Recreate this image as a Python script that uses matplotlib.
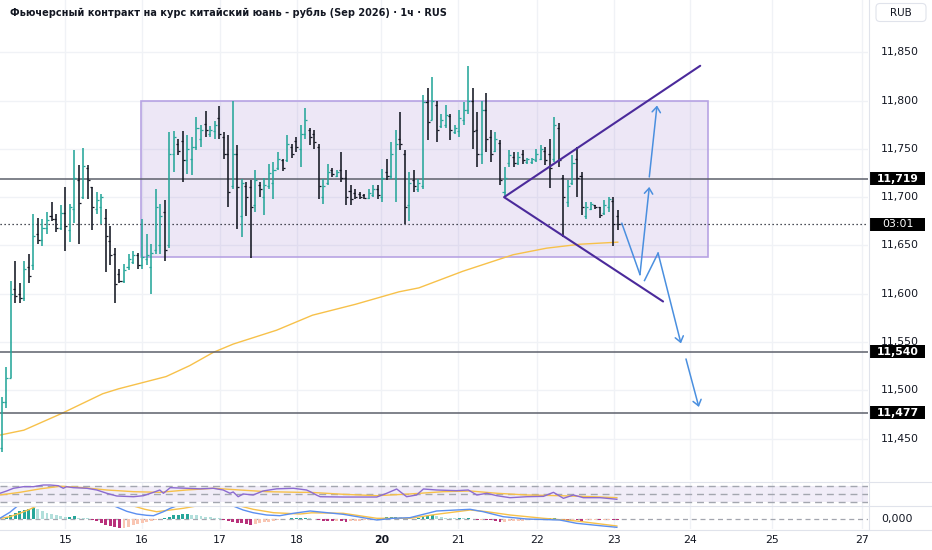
import matplotlib
matplotlib.use('Agg')
import matplotlib.pyplot as plt
import matplotlib.transforms as mtransforms
from matplotlib.patches import Rectangle, FancyBboxPatch
from matplotlib.lines import Line2D
import numpy as np

plt.rcParams['font.family'] = ['DejaVu Sans']

# ---------------- data ----------------
title = "Фьючерсный контракт на курс китайский юань - рубль (Sep 2026) · 1ч · RUS"

opens = [11440, 11488, 11513, 11605, 11600, 11596, 11628, 11630, 11662, 11656,
         11668, 11680, 11677, 11668, 11684, 11666, 11688, 11718, 11700, 11730,
         11710, 11688, 11690, 11678, 11655, 11641, 11620, 11613, 11628, 11633,
         11640, 11630, 11636, 11628, 11645, 11650, 11685, 11650, 11745, 11755,
         11758, 11738, 11740, 11752, 11760, 11776, 11765, 11768, 11782, 11762,
         11745, 11712, 11745, 11680, 11712, 11710, 11692, 11713, 11700, 11712,
         11715, 11730, 11738, 11738, 11752, 11758, 11750, 11765, 11770, 11765,
         11752, 11700, 11715, 11728, 11722, 11728, 11720, 11706, 11704, 11703,
         11702, 11699, 11702, 11708, 11700, 11726, 11722, 11720, 11760, 11745,
         11692, 11718, 11708, 11712, 11798, 11780, 11795, 11774, 11775, 11784,
         11767, 11768, 11780, 11790, 11800, 11770, 11745, 11790, 11762, 11748,
         11756, 11705, 11735, 11742, 11735, 11745, 11736, 11736, 11738, 11740,
         11748, 11745, 11740, 11772, 11720, 11695, 11715, 11740, 11722, 11680,
         11688, 11692, 11690, 11684, 11690, 11696, 11680]
highs = [11493, 11524, 11613, 11634, 11611, 11634, 11641, 11683, 11678, 11677,
         11685, 11695, 11683, 11692, 11711, 11693, 11749, 11733, 11751, 11733,
         11711, 11705, 11703, 11688, 11670, 11647, 11626, 11631, 11641, 11644,
         11642, 11677, 11662, 11651, 11708, 11693, 11697, 11767, 11769, 11760,
         11768, 11764, 11762, 11783, 11775, 11789, 11774, 11779, 11794, 11767,
         11764, 11800, 11754, 11719, 11716, 11718, 11728, 11716, 11720, 11734,
         11736, 11747, 11739, 11764, 11755, 11762, 11775, 11792, 11772, 11770,
         11755, 11719, 11734, 11730, 11728, 11747, 11728, 11713, 11708, 11705,
         11703, 11708, 11713, 11713, 11729, 11739, 11757, 11770, 11788, 11749,
         11726, 11728, 11719, 11806, 11813, 11824, 11800, 11786, 11795, 11786,
         11775, 11790, 11798, 11836, 11813, 11788, 11800, 11808, 11770, 11767,
         11759, 11731, 11749, 11747, 11747, 11749, 11741, 11741, 11750, 11754,
         11752, 11760, 11783, 11777, 11723, 11718, 11744, 11752, 11726, 11695,
         11695, 11692, 11690, 11697, 11700, 11700, 11687]
lows = [11436, 11482, 11513, 11590, 11590, 11592, 11611, 11625, 11651, 11649,
        11662, 11675, 11664, 11666, 11644, 11654, 11673, 11652, 11698, 11698,
        11666, 11683, 11672, 11623, 11630, 11590, 11611, 11611, 11625, 11631,
        11626, 11626, 11630, 11600, 11641, 11641, 11634, 11647, 11726, 11744,
        11716, 11724, 11723, 11749, 11752, 11762, 11762, 11760, 11760, 11739,
        11690, 11708, 11667, 11659, 11680, 11637, 11685, 11700, 11682, 11708,
        11698, 11728, 11727, 11736, 11741, 11747, 11731, 11760, 11754, 11750,
        11698, 11693, 11713, 11721, 11721, 11716, 11692, 11692, 11698, 11698,
        11698, 11698, 11700, 11698, 11695, 11718, 11719, 11695, 11749, 11672,
        11675, 11705, 11705, 11708, 11759, 11780, 11757, 11772, 11772, 11759,
        11765, 11762, 11775, 11786, 11750, 11731, 11734, 11747, 11736, 11747,
        11713, 11700, 11731, 11731, 11733, 11734, 11734, 11734, 11736, 11738,
        11733, 11709, 11736, 11731, 11659, 11690, 11713, 11700, 11682, 11677,
        11687, 11688, 11678, 11682, 11685, 11649, 11666]
closes = [11488, 11513, 11600, 11598, 11596, 11626, 11618, 11660, 11656, 11668,
          11676, 11677, 11668, 11684, 11670, 11690, 11720, 11694, 11732, 11718,
          11690, 11697, 11700, 11660, 11640, 11610, 11613, 11625, 11636, 11640,
          11630, 11638, 11640, 11642, 11690, 11680, 11645, 11745, 11762, 11748,
          11738, 11750, 11752, 11772, 11770, 11770, 11770, 11775, 11765, 11745,
          11705, 11745, 11710, 11715, 11700, 11690, 11718, 11708, 11713, 11725,
          11728, 11740, 11730, 11755, 11745, 11752, 11765, 11780, 11762, 11757,
          11712, 11712, 11726, 11724, 11726, 11720, 11700, 11698, 11700, 11700,
          11699, 11704, 11708, 11702, 11720, 11722, 11745, 11755, 11755, 11690,
          11715, 11712, 11715, 11798, 11778, 11800, 11770, 11780, 11785, 11770,
          11772, 11782, 11790, 11800, 11768, 11745, 11790, 11760, 11745, 11760,
          11718, 11720, 11744, 11735, 11742, 11738, 11739, 11740, 11745, 11750,
          11738, 11730, 11775, 11738, 11700, 11712, 11735, 11720, 11690, 11690,
          11693, 11690, 11682, 11692, 11698, 11672, 11672]

# EMA (yellow) vertices: bar index, price
ema_x = [-0.4, 4.9, 13.2, 22.3, 25.8, 36.3, 41.5, 46.7, 51.1, 60.7, 68.6, 78.1,
         87.7, 92.1, 101.8, 112.9, 120.3, 127.7, 136.0]
ema_y = [11453.7, 11458.8, 11476.0, 11496.5, 11501.6, 11514.3, 11525.6, 11539.3,
         11547.9, 11562.3, 11577.8, 11589.1, 11602.0, 11606.1, 11623.3, 11640.4,
         11647.2, 11651.3, 11653.4]

levels = [11719, 11540, 11477]
last_price = 11672
countdown = "03:01"
price_ticks = [11450, 11500, 11550, 11600, 11650, 11700, 11750, 11800, 11850]

day_labels = ["15", "16", "17", "18", "20", "21", "22", "23", "24", "25", "27"]
day_pos = [14.06, 30.9, 48.1, 65.2, 83.8, 100.7, 118.1, 135.1, 152.0, 170.0, 189.9]

# drawings
box_x = [30.75, 155.9]
box_y = [11638, 11800]
tri_x = [146.0, 110.9, 154.2]
tri_y = [11592, 11700, 11836]
path_a_x = [136.9, 140.9]; path_a_y = [11672.9, 11619.9]
path_c_x = [141.9, 144.9]; path_c_y = [11613.7, 11642.1]
arrows = [((140.9, 11619.9), (142.96, 11710.6)),
          ((142.96, 11720.9), (144.66, 11794.9)),
          ((144.9, 11642.1), (149.95, 11548.6)),
          ((151.06, 11532.5), (153.9, 11482.8))]

# RSI
rsi_x = [-0.4, 1.1, 2.6, 4.8, 7.0, 9.2, 10.7, 12.5, 13.6, 14.3, 15.8, 18.8, 21.0,
         23.2, 25.4, 29.1, 31.3, 33.5, 34.9, 35.7, 37.2, 40.8, 43.8, 46.7, 48.9,
         50.4, 51.1, 52.2, 53.3, 55.5, 57.7, 60.7, 64.4, 67.3, 68.1, 69.5, 70.3,
         75.4, 82.8, 85.0, 87.2, 89.4, 91.6, 93.1, 96.0, 100.4, 103.0, 104.9,
         107.1, 109.3, 112.2, 115.9, 119.6, 121.8, 124.0, 126.2, 128.4, 132.1,
         133.6, 135.8]
rsi_v = [52.6, 58.5, 65.4, 69.5, 69.5, 73.8, 73.8, 72.0, 65.4, 69.5, 67.0, 65.4,
         61.0, 52.6, 45.6, 43.8, 46.4, 55.0, 61.0, 52.6, 67.0, 65.4, 64.0, 65.4,
         61.0, 52.6, 56.0, 43.8, 50.8, 48.2, 58.5, 64.0, 65.4, 61.0, 56.7, 48.0,
         43.8, 43.0, 43.0, 52.6, 63.6, 43.8, 48.2, 63.6, 61.0, 59.3, 61.0, 48.2,
         52.6, 46.4, 41.3, 43.8, 44.7, 55.0, 39.7, 48.2, 41.3, 41.3, 39.7, 37.2]
rsima_x = [-0.4, 4.0, 8.5, 12.9, 18.0, 23.2, 29.1, 34.9, 40.8, 46.7, 52.6, 58.5,
           65.9, 68.1, 75.4, 82.8, 90.1, 97.5, 103.4, 109.3, 115.9, 123.2, 130.6,
           135.8]
rsima_v = [48.2, 55.0, 64.0, 70.5, 67.0, 61.0, 56.7, 55.0, 61.0, 65.4, 61.0, 56.7,
           55.0, 55.0, 50.0, 46.4, 50.8, 56.7, 58.5, 52.6, 48.2, 46.4, 43.8, 41.3]

# MACD
hist = [0.5, 2.0, 4.5, 6.5, 8.0, 9.5, 10.5, 10.8, 10.0, 8.0,
        6.5, 5.0, 4.2, 3.0, 2.0, 2.2, 2.6, 1.4, 1.0, 0.7,
        -0.5, -2.2, -4.0, -5.8, -7.2, -8.0, -8.8, -8.6, -7.8, -6.3,
        -5.0, -3.8, -2.8, -1.8, -1.0, -0.2, 0.8, 2.3, 3.8, 4.5,
        4.7, 4.9, 4.4, 4.0, 3.4, 2.4, 2.0, 1.4, 0.7, -0.8,
        -1.8, -2.7, -3.7, -4.4, -5.3, -6.0, -5.4, -4.4, -3.4, -2.7,
        -1.8, -1.0, -0.4, 0.5, 0.8, 1.0, 1.3, 1.4, 0.8, -0.4,
        -1.2, -1.6, -2.0, -2.1, -1.8, -2.2, -2.5, -2.0, -1.7, -1.5,
        -1.3, -1.0, -0.8, -0.4, 0.8, 1.6, 2.0, 2.4, 1.8, 0.2,
        -0.4, 0.3, 0.6, 2.4, 3.0, 3.8, 2.6, 1.6, 1.5, 1.3,
        1.2, 1.2, 1.1, 1.3, 0.4, -0.8, -0.6, -1.0, -1.2, -2.0,
        -3.3, -2.8, -2.2, -2.0, -1.7, -1.5, -1.3, -1.1, -0.9, -0.6,
        -0.4, 1.0, 1.4, 0.5, -0.8, -1.4, -1.0, -1.2, -1.6, -1.3,
        -1.1, -1.0, -1.2, -1.0, -0.8, -1.3, -1.4]
macd_x = [-0.4, 1.8, 3.3, 5.1, 12.9, 21.7, 25.0, 27.6, 29.8, 32.0, 33.5, 35.7, 37.2,
          38.6, 41.6, 46.0, 49.3, 51.1, 53.3, 55.5, 58.5, 61.4, 64.4, 67.3, 68.1,
          75.4, 82.8, 86.4, 90.1, 93.1, 96.0, 103.4, 106.3, 110.7, 115.9, 123.2,
          126.9, 132.1, 135.8]
macd_v = [0.7, 6.7, 12.3, 18.0, 25.0, 22.0, 12.7, 7.7, 5.0, 3.7, 3.3, 7.3, 10.7,
          13.0, 16.0, 17.0, 15.0, 13.0, 9.0, 6.3, 4.0, 3.3, 5.7, 7.5, 8.0,
          4.7, -1.0, 0.7, 1.3, 4.7, 8.0, 9.7, 7.3, 2.3, 0.0, -1.0,
          -4.3, -6.7, -8.3]
sig_x = [-0.4, 1.8, 4.0, 6.2, 7.7, 12.9, 21.7, 26.1, 29.1, 31.6, 34.2, 37.2, 40.1,
         43.0, 47.1, 52.6, 55.5, 60.0, 65.9, 68.4, 75.4, 82.8, 90.1, 96.0, 103.4,
         107.1, 112.2, 119.6, 126.9, 135.8]
sig_v = [0.5, 2.3, 5.7, 9.7, 13.0, 17.0, 19.0, 16.0, 13.0, 9.7, 7.3, 9.0, 10.7,
         13.0, 15.0, 13.0, 9.7, 6.3, 5.0, 6.2, 5.7, 0.7, 0.7, 4.7, 9.0,
         7.3, 4.0, 0.7, -2.0, -7.0]

# ---------------- style ----------------
TEAL = '#26a69a'
BLACK = '#131722'
GRID = '#f0f2f6'
SEP = '#e0e3eb'
TEXT = '#131722'
LEVEL = '#5d606b'
BLUE = '#4a8fdf'
PURPLE_DARK = '#4b2a9b'
EMA_C = '#f7c14a'
RSI_C = '#8c6bd0'
RSIMA_C = '#f7c14a'
MACD_C = '#5b8ff0'
SIG_C = '#f7c14a'

W, H = 932, 550
PLOT_R = 868
fig = plt.figure(figsize=(W / 100, H / 100), dpi=100)
fig.patch.set_facecolor('white')


def ax_rect(top, bottom):
    return [0, 1 - bottom / H, PLOT_R / W, (bottom - top) / H]


ax = fig.add_axes(ax_rect(0, 480))
ax_rsi = fig.add_axes(ax_rect(482, 506))
ax_macd = fig.add_axes(ax_rect(506, 529))
XLIM = (-0.375, 191.24)

for a in (ax, ax_rsi, ax_macd):
    a.set_xlim(*XLIM)
    a.set_xticks([])
    a.set_yticks([])
    for s in a.spines.values():
        s.set_visible(False)
    a.set_facecolor('none')
    for d in day_pos:
        a.axvline(d, color=GRID, lw=1.0, zorder=0)

ax.set_ylim(11407.2, 11904.1)
ax_rsi.set_ylim(20, 81.5)
ax_macd.set_ylim(-10, 13)

for p in price_ticks:
    ax.axhline(p, color=GRID, lw=1.0, zorder=0)

# rectangle drawing
ax.add_patch(Rectangle((box_x[0], box_y[0]), box_x[1] - box_x[0], box_y[1] - box_y[0],
                       facecolor=(149 / 255, 117 / 255, 205 / 255, 0.17),
                       edgecolor='#b7a3e3', lw=1.2, zorder=1))

# EMA
ax.plot(ema_x, ema_y, color=EMA_C, lw=1.0, zorder=2)

# levels
for lv in levels:
    ax.axhline(lv, color=LEVEL, lw=1.1, zorder=2)
ax.axhline(last_price, color=BLACK, lw=0.9, ls=(0, (1, 2.2)), zorder=2)

# OHLC bars
o = np.array(opens, float); h = np.array(highs, float)
l = np.array(lows, float); c = np.array(closes, float)
idx = np.arange(len(o))
cols = [TEAL if c[i] >= o[i] else BLACK for i in idx]
ax.vlines(idx, l, h, colors=cols, lw=1.15, zorder=3)
ax.hlines(o, idx - 0.45, idx, colors=cols, lw=0.9, zorder=3)
ax.hlines(c, idx, idx + 0.45, colors=cols, lw=0.9, zorder=3)

# triangle
ax.plot(tri_x, tri_y, color=PURPLE_DARK, lw=1.5, zorder=4, solid_capstyle='round')

# blue arrows
ax.plot(path_a_x, path_a_y, color=BLUE, lw=1.1, zorder=4)
ax.plot(path_c_x, path_c_y, color=BLUE, lw=1.1, zorder=4)
for start, end in arrows:
    ax.annotate('', xy=end, xytext=start, zorder=4,
                arrowprops=dict(arrowstyle='->,head_length=0.4,head_width=0.3',
                                color=BLUE, lw=1.1, shrinkA=0, shrinkB=0))

# RSI pane
ax_rsi.axhspan(30, 70, color=(126 / 255, 87 / 255, 194 / 255, 0.1), lw=0, zorder=0)
for v in (70, 50, 30):
    ax_rsi.axhline(v, color='#a3a6af', lw=1.0, ls=(0, (5, 3.5)), zorder=1)
ax_rsi.plot(rsima_x, rsima_v, color=RSIMA_C, lw=1.0, zorder=2)
ax_rsi.plot(rsi_x, rsi_v, color=RSI_C, lw=1.0, zorder=3)

# MACD pane
hv = np.array(hist)
hcols = []
for i, v in enumerate(hv):
    prev = hv[i - 1] if i > 0 else 0
    if v >= 0:
        hcols.append('#26a69a' if v >= prev else '#b2dfdb')
    else:
        hcols.append('#b8307a' if v <= prev else '#f9c6b3')
ax_macd.axhline(0, color='#a3a6af', lw=0.9, ls=(0, (4, 3)), zorder=0)
ax_macd.bar(np.arange(len(hv)), hv, width=0.65, color=hcols, zorder=1)
ax_macd.plot(sig_x, sig_v, color=SIG_C, lw=1.0, zorder=2)
ax_macd.plot(macd_x, macd_v, color=MACD_C, lw=1.0, zorder=3)

# separators
for yy in (481.5, 506, 529.5):
    fig.add_artist(Line2D([0, 1], [1 - yy / H, 1 - yy / H], transform=fig.transFigure,
                          color=SEP, lw=0.8))
fig.add_artist(Line2D([(PLOT_R + 1) / W] * 2, [1 - 529.5 / H, 1], transform=fig.transFigure,
                      color=SEP, lw=0.8))

# right price axis
tr = mtransforms.blended_transform_factory(fig.transFigure, ax.transData)
for p in price_ticks:
    fig.text(900 / W, p, f'{p:,}', transform=tr, ha='center', va='center',
             fontsize=7.8, color=TEXT)

box_h = 13.8
for lv in levels:
    fig.add_artist(Rectangle((870 / W, lv - box_h / 2), 55 / W, box_h, transform=tr,
                             facecolor='black', edgecolor='none'))
    fig.text(897.5 / W, lv, f'{lv:,}', transform=tr, ha='center', va='center',
             fontsize=7.8, color='white', fontweight='bold')
fig.add_artist(Rectangle((870 / W, last_price - box_h / 2), 55 / W, box_h, transform=tr,
                         facecolor='black', edgecolor='none'))
fig.text(897.5 / W, last_price, countdown, transform=tr, ha='center', va='center',
         fontsize=7.8, color='white')

# MACD zero label
fig.text(897 / W, 1 - 519 / H, '0,000', ha='center', va='center', fontsize=7.8, color=TEXT)

# RUB box
fig.add_artist(FancyBboxPatch((876, H - 21.5), 50, 18,
                              boxstyle='round,pad=0,rounding_size=4',
                              transform=mtransforms.IdentityTransform(),
                              facecolor='white', edgecolor=SEP, lw=0.8))
fig.text(901 / W, 1 - 12.5 / H, 'RUB', ha='center', va='center', fontsize=7.5, color=TEXT)

# title
fig.text(10 / W, 1 - 12.5 / H, title, ha='left', va='center', fontsize=7.05,
         fontweight='bold', color=TEXT)

# date labels
trx = mtransforms.blended_transform_factory(ax.transData, fig.transFigure)
for lab, d in zip(day_labels, day_pos):
    fig.text(d, 1 - 540 / H, lab, transform=trx, ha='center', va='center', fontsize=7.8,
             color=TEXT, fontweight='bold' if lab == '20' else 'normal')

fig.savefig('out.png', dpi=100, facecolor='white')
